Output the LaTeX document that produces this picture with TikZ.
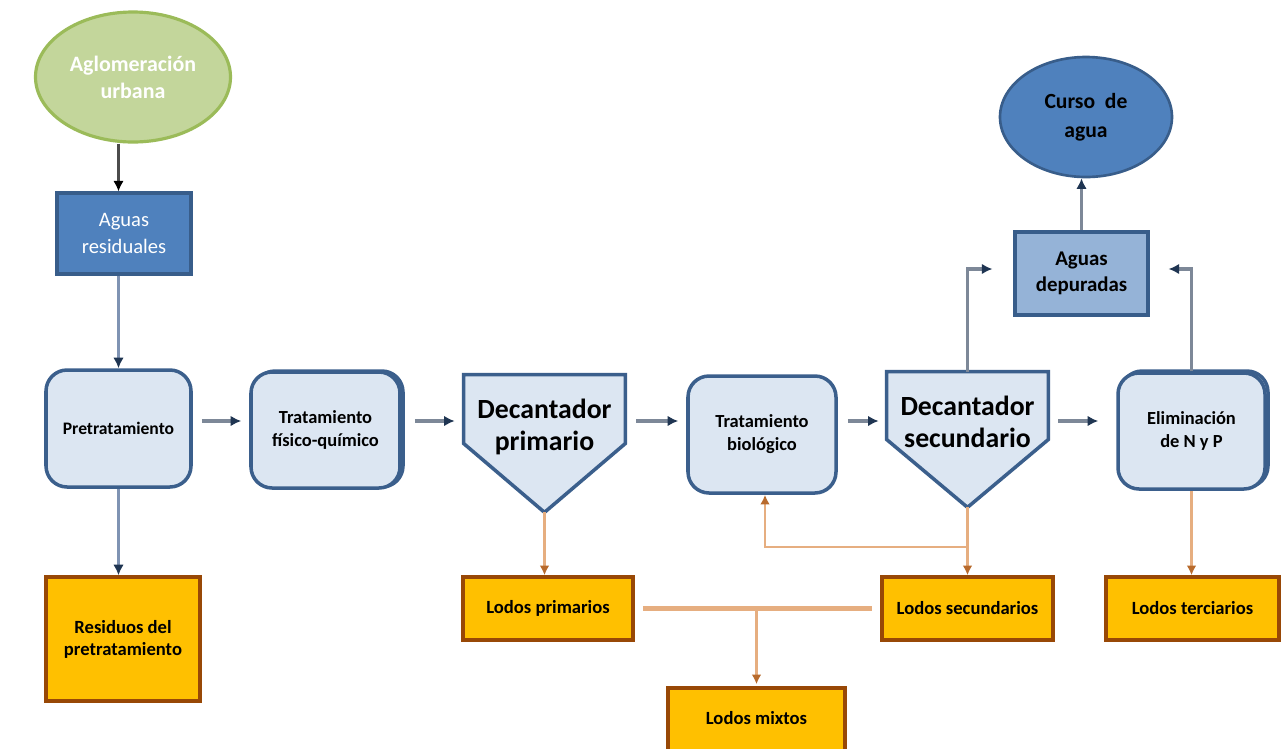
\documentclass[tikz,border=0pt]{standalone}
\usepackage{fontspec}
\setmainfont{Carlito}
\usetikzlibrary{arrows.meta,calc,shapes.geometric}
\newdimen\px \px=0.02cm
\definecolor{procfill}{HTML}{DCE6F2}
\definecolor{procdraw}{HTML}{3B5F8C}
\definecolor{bluefill}{HTML}{4F81BD}
\definecolor{bluedraw}{HTML}{385D8A}
\definecolor{lbluefill}{HTML}{95B3D7}
\definecolor{greenfill}{HTML}{C3D69B}
\definecolor{greendraw}{HTML}{9BBB59}
\definecolor{lodofill}{HTML}{FFC000}
\definecolor{lododraw}{HTML}{984806}
\definecolor{arrline}{HTML}{7D8898}
\definecolor{arrtip}{HTML}{1F3552}
\definecolor{vline}{HTML}{7F93B3}
\definecolor{oline}{HTML}{E6AE80}
\definecolor{otip}{HTML}{B86A2C}
\tikzset{
  procbox/.style={draw=procdraw, fill=procfill, line width=2pt, rounded corners=12pt,
    align=center, inner sep=0pt, font=\bfseries\fontsize{10.5}{13}\selectfont},
  lodo/.style={draw=lododraw, fill=lodofill, line width=2pt, align=center, inner sep=0pt,
    font=\bfseries\fontsize{10.6}{12.6}\selectfont},
  pent/.style={draw=procdraw, fill=procfill, line width=2pt, line join=miter},
  dectext/.style={align=center, font=\bfseries\fontsize{15.8}{18.2}\selectfont},
  garr/.style={draw=arrline, line width=1.8pt, -{Latex[length=6pt,width=6pt,color=arrtip]}},
  varr/.style={draw=vline, line width=1.6pt, -{Latex[length=6pt,width=6pt,color=arrtip]}},
  karr/.style={draw=black!70, line width=1.6pt, -{Latex[length=6pt,width=6pt,color=black]}},
  oarr/.style={draw=oline, line width=1.4pt, -{Latex[length=5.5pt,width=5.5pt,color=otip]}},
  oline/.style={draw=oline, line width=2.6pt},
}
\begin{document}
\begin{tikzpicture}[x=0.02cm,y=-0.02cm]
\clip (0,0) rectangle (1282,748);
\fill[white] (0,0) rectangle (1282,748);

% top-left
\node[ellipse, draw=greendraw, fill=greenfill, line width=1.8pt, minimum width=193\px, minimum height=130\px,
  align=center, text=white, font=\bfseries\fontsize{12.5}{15.3}\selectfont] (agl) at (133,77) {Aglomeración\\urbana};
\node[draw=bluedraw, fill=bluefill, line width=1.8pt, minimum width=134\px, minimum height=81\px,
  align=center, text=white, font=\fontsize{11.7}{15}\selectfont] (ares) at (124,233.5) {Aguas\\residuales};

% process row
\node[procbox, minimum width=145\px, minimum height=117\px, font=\bfseries\fontsize{10}{12}\selectfont] (pre) at (118.5,428.5) {Pretratamiento};
\node[procbox, minimum width=149\px, minimum height=116\px] (fqshadow) at (328.5,429) {};
\node[procbox, minimum width=149\px, minimum height=116\px] (fq) at (325.5,430) {Tratamiento\\físico-químico};

\node[minimum width=161\px, minimum height=137\px, inner sep=0pt] (dp) at (544.5,443.5) {};
\path[pent] (dp.north west) -- (dp.north east) -- (dp.east) -- (dp.south) -- (dp.west) -- cycle;
\node[dectext] (dpt) at (544.5,427) {Decantador\\primario};

\node[procbox, minimum width=148\px, minimum height=117\px] (tb) at (762,434.5) {Tratamiento\\biológico};

\node[minimum width=161\px, minimum height=135\px, inner sep=0pt] (ds) at (967.5,439.5) {};
\path[pent] (ds.north west) -- (ds.north east) -- (ds.east) -- (ds.south) -- (ds.west) -- cycle;
\node[dectext] (dst) at (967.5,422) {Decantador\\secundario};

\node[procbox, minimum width=147\px, minimum height=116\px] (elimshadow) at (1194.5,429) {};
\node[procbox, minimum width=147\px, minimum height=116\px] (elim) at (1191.5,431) {Eliminación\\de N y P};

% outputs
\node[draw=bluedraw, fill=lbluefill, line width=1.8pt, minimum width=133\px, minimum height=83\px,
  align=center, font=\bfseries\fontsize{11.9}{14.8}\selectfont] (dep) at (1081.5,273.5) {Aguas\\depuradas};
\node[ellipse, draw=bluedraw, fill=bluefill, line width=1.5pt, minimum width=172\px, minimum height=120\px,
  align=center, font=\bfseries\fontsize{12.3}{16.5}\selectfont] (cur) at (1086,117) {Curso\ \ de\\agua};

% sludge boxes
\node[lodo, minimum width=154\px, minimum height=124\px] (res) at (123,639) {Residuos del\\pretratamiento};
\node[lodo, minimum width=170\px, minimum height=63\px] (lp) at (548,608.5) {Lodos primarios};
\node[lodo, minimum width=171\px, minimum height=63\px] (ls) at (967.5,608.5) {Lodos secundarios};
\node[lodo, minimum width=173\px, minimum height=63\px] (lt) at (1192.5,608.5) {Lodos terciarios};
\node[lodo, minimum width=177\px, minimum height=80\px] (lm) at (756.5,728) {};
\node[font=\bfseries\fontsize{10.6}{12.6}\selectfont] (lmt) at (756.5,718) {Lodos mixtos};

% helper coordinates
\coordinate (row) at (0,421);
\coordinate (up) at (0,269);
\coordinate (br) at (0,547);

% connectors
\draw[karr] (agl.south -| pre.north) -- (ares.north -| pre.north);
\draw[varr] (ares.south -| pre.north) -- (pre.north);
\draw[varr] (pre.south) -- (res.north -| pre.south);

\draw[garr] ([xshift=9\px]pre.east |- row) -- ([xshift=-8\px]fq.west |- row);
\draw[garr] ([xshift=10\px]fqshadow.east |- row) -- ([xshift=-9\px]dp.west |- row);
\draw[garr] ([xshift=11\px]dp.east |- row) -- ([xshift=-8\px]tb.west |- row);
\draw[garr] ([xshift=10\px]tb.east |- row) -- ([xshift=-8\px]ds.west |- row);
\draw[garr] ([xshift=10\px]ds.east |- row) -- ([xshift=-18\px]elim.west |- row);

\draw[garr] (ds.north) |- ([xshift=-21\px]dep.west |- up);
\draw[garr] (elim.north) |- ([xshift=19\px]dep.east |- up);
\draw[garr] (dep.north) -- (cur.south -| dep.north);

\draw[oarr] (dp.south) -- (lp.north -| dp.south);
\draw[oarr] (ds.south) -- (ls.north -| ds.south);
\draw[oarr] (ds.south |- br) -| ([xshift=3\px]tb.south);
\draw[oarr] (elim.south) -- (lt.north -| elim.south);
\draw[oline] ([xshift=8\px]lp.east) -- ([xshift=-8\px]ls.west);
\draw[oarr] (lp.east -| lm.north) -- ([yshift=2\px]lm.north);
\end{tikzpicture}
\end{document}
